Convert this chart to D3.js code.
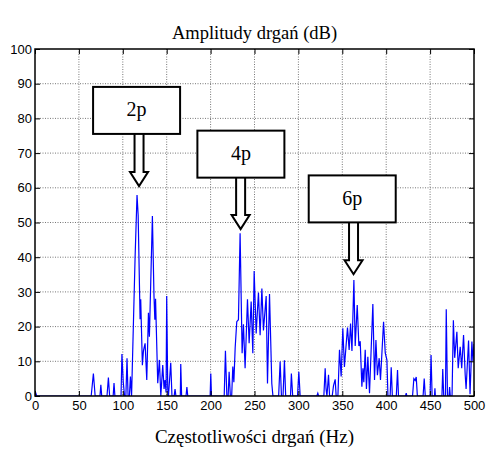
<!DOCTYPE html>
<html>
<head>
<meta charset="utf-8">
<title>Amplitudy drgań</title>
<script src="https://d3js.org/d3.v7.min.js"></script>
<style>
  body { margin: 0; background: #fff; }
</style>
</head>
<body>
<div id="chart"></div>
<script>
// spectrum: frequency (Hz) and amplitude (dB)
var freqHz = [0, 2, 64, 66.5, 68.5, 74, 75, 76, 82, 83.6, 85, 89, 90, 91, 98, 99, 100.5, 102, 103.5, 104.8, 106, 107.5, 108.7, 110,
  112, 114, 116.2, 117.5, 119.7, 120.4, 122.3, 123.5, 125.4, 127.3, 129.2, 130.3, 133.7, 135.5, 136.5, 137.3, 139.8, 141.7, 143.3,
  145.5, 147, 148.1, 149.3, 150, 151.2, 152, 154.6, 156, 158.5, 159.5, 160.5, 165.5, 166, 167, 172, 173, 174,
  199.5, 200.2, 201, 215.5, 216.9, 218.5, 220, 221.1, 222.5, 224, 225.3, 226.5, 228, 229.8, 231.7, 233.6, 235.9, 237.4, 239.3,
  242, 243.9, 246.2, 248.1, 249.6, 251.9, 254.5, 256.4, 258.4, 260.2, 263.3, 264.8, 267.1, 269.7, 271,
  277.5, 279.2, 280.7, 282.5, 284.1, 285.5, 291, 292, 293.5, 299, 300.5, 302, 321, 322.1, 323,
  329, 330.5, 331.5, 332.5, 334.3, 335.5, 338.5, 340, 341.9, 343, 345, 346.8, 348.7, 350.6, 352.4, 355.9, 357.8, 359.4, 361,
  363.2, 364.7, 367, 368.9, 370.4, 372.3, 373.5, 374.5, 376.1, 377.5, 379.1, 381, 384.8, 386.7, 388.3, 390, 392, 393.5,
  397, 398.9, 400.8, 402, 404.5, 405.7, 407, 411.5, 412.9, 414, 422, 422.8, 423.5, 430, 431.5, 433, 434.2, 435.5,
  442, 443.3, 444.5, 450, 451.1, 452.3, 455, 455.5, 456, 463.5, 464.4, 465.5, 467.5, 468.4, 469.8, 471.5, 472.2, 473,
  475, 476.5, 478, 480.5, 482, 484.3, 486, 488.1, 490, 491, 493.8, 495.5, 497.6, 498.8, 500];
var ampDb = [1.5, 0, 0, 6.5, 0, 0, 3.2, 0, 0, 5.3, 0, 0, 3.7, 0, 0, 12.1, 4, 0, 0, 10.9, 0, 0, 5.6, 0,
  20, 40, 57.9, 52, 22.1, 27.9, 8.9, 13, 15.2, 4.6, 24, 17.1, 51.9, 29, 22, 28, 3.7, 10.4, 0,
  8.9, 2, 4.6, 1, 28.8, 2, 0, 9.6, 0, 0, 2, 0, 0, 9.2, 0, 0, 2.6, 0,
  0, 6.5, 0, 0, 13, 0, 0, 7, 0, 0, 8.5, 4, 14, 21.4, 22, 46.9, 12.3, 20.7, 8,
  27.9, 15.2, 27.2, 12.3, 36, 18, 29.8, 17.5, 31, 18.9, 28.8, 3.6, 29.4, 3.6, 0,
  0, 9.9, 0, 0, 10.3, 0, 0, 6.5, 0, 0, 7, 0, 0, 0.8, 0,
  0, 8, 2, 0, 6.1, 0, 0, 3, 4.8, 0, 0, 13.3, 5.6, 19.5, 8.4, 19.7, 13.3, 20.9, 13,
  33.4, 14.4, 26.2, 14.4, 15.8, 2.7, 8, 4, 13.3, 2, 11.3, 0.8, 26.5, 4.6, 16.1, 6, 10.9, 4.6,
  21.4, 12.4, 10.4, 0, 0, 8.3, 0, 0, 7.5, 0, 0, 0.8, 0, 0, 5, 4.5, 5.5, 0,
  0, 5, 0, 0, 11.8, 0, 0, 2.2, 0, 0, 7.8, 0, 0, 25, 0, 0, 2.6, 0,
  0, 21.8, 11, 18.5, 8, 14.2, 8, 17.6, 6, 2, 16, 0.5, 15.7, 10, 15];

var xTicks = [0, 50, 100, 150, 200, 250, 300, 350, 400, 450, 500];
var yTicks = [0, 10, 20, 30, 40, 50, 60, 70, 80, 90, 100];

// annotation labels: box centre (Hz, dB), arrow x (Hz) and arrow tip (dB)
var noteLabels = ["2p", "4p", "6p"];
var noteBoxHz = [115.7, 234.5, 361.3];
var noteBoxDb = [82.3, 69.7, 56.8];
var noteArrowHz = [118.5, 234.2, 362.8];
var noteTipDb = [60.5, 48.1, 35.1];

var titleText = "Amplitudy drgań (dB)";
var xLabelText = "Częstotliwości drgań (Hz)";

var width = 486, height = 450;
var margin = { top: 49, right: 12, bottom: 54, left: 35 };
var plotW = width - margin.left - margin.right;
var plotH = height - margin.top - margin.bottom;

var svg = d3.select("#chart").append("svg")
  .attr("width", width)
  .attr("height", height)
  .style("display", "block");

svg.append("rect").attr("width", width).attr("height", height).attr("fill", "#fff");

var x = d3.scaleLinear().domain([0, 500]).range([0, plotW]);
var y = d3.scaleLinear().domain([0, 100]).range([plotH, 0]);

var g = svg.append("g").attr("transform", "translate(" + margin.left + "," + margin.top + ")");

svg.append("defs").append("clipPath").attr("id", "plotclip")
  .append("rect").attr("width", plotW).attr("height", plotH);

// dotted grid
g.append("g").selectAll("line.gx")
  .data(xTicks.slice(1, -1)).enter().append("line")
  .attr("x1", function (d) { return x(d); }).attr("x2", function (d) { return x(d); })
  .attr("y1", 0).attr("y2", plotH)
  .attr("stroke", "#777").attr("stroke-dasharray", "1,1.5");
g.append("g").selectAll("line.gy")
  .data(yTicks.slice(1, -1)).enter().append("line")
  .attr("y1", function (d) { return y(d); }).attr("y2", function (d) { return y(d); })
  .attr("x1", 0).attr("x2", plotW)
  .attr("stroke", "#777").attr("stroke-dasharray", "1,1.5");

// spectrum line
var pts = freqHz.map(function (f, i) { return [f, ampDb[i]]; });
var line = d3.line()
  .x(function (d) { return x(d[0]); })
  .y(function (d) { return y(d[1]); });
g.append("path")
  .datum(pts)
  .attr("clip-path", "url(#plotclip)")
  .attr("d", line)
  .attr("fill", "none")
  .attr("stroke", "#0000ff")
  .attr("stroke-width", 1.2);

// axes with inward ticks on all four sides
var tickFont = "'Liberation Sans', Arial, sans-serif";
var axB = g.append("g").attr("transform", "translate(0," + plotH + ")")
  .call(d3.axisBottom(x).tickValues(xTicks).tickSize(-5).tickPadding(5).tickFormat(d3.format("d")));
var axL = g.append("g")
  .call(d3.axisLeft(y).tickValues(yTicks).tickSize(-5).tickPadding(3).tickFormat(d3.format("d")));
var axT = g.append("g")
  .call(d3.axisTop(x).tickValues(xTicks).tickSize(-5).tickFormat(""));
var axR = g.append("g").attr("transform", "translate(" + plotW + ",0)")
  .call(d3.axisRight(y).tickValues(yTicks).tickSize(-5).tickFormat(""));

[axB, axL, axT, axR].forEach(function (a) {
  a.select(".domain").remove();
  a.selectAll(".tick line").attr("stroke", "#000").attr("stroke-width", 1);
  a.selectAll(".tick text").attr("fill", "#000").style("font-family", tickFont).style("font-size", "13px");
});

g.append("rect")
  .attr("width", plotW).attr("height", plotH)
  .attr("fill", "none").attr("stroke", "#000").attr("stroke-width", 1.5);

// annotation boxes with hollow arrows
var boxW = 87, boxH = 47, shaftW = 9, headW = 18, headL = 14;
noteLabels.forEach(function (lab, i) {
  var cx = x(noteBoxHz[i]), cy = y(noteBoxDb[i]);
  var ax = x(noteArrowHz[i]), tip = y(noteTipDb[i]);
  var top = cy + boxH / 2, hb = tip - headL;
  var arrow = [
    [ax - shaftW / 2, top], [ax - shaftW / 2, hb], [ax - headW / 2, hb], [ax, tip],
    [ax + headW / 2, hb], [ax + shaftW / 2, hb], [ax + shaftW / 2, top]
  ];
  g.append("path")
    .attr("d", "M" + arrow.join("L"))
    .attr("fill", "#fff").attr("stroke", "#000").attr("stroke-width", 2)
    .attr("stroke-linejoin", "miter");
  g.append("rect")
    .attr("x", cx - boxW / 2).attr("y", cy - boxH / 2)
    .attr("width", boxW).attr("height", boxH)
    .attr("fill", "#fff").attr("stroke", "#000").attr("stroke-width", 2);
  g.append("text")
    .attr("x", cx).attr("y", cy + 6)
    .attr("text-anchor", "middle")
    .style("font-family", "'Liberation Serif', 'Times New Roman', serif")
    .style("font-size", "20px")
    .text(lab);
});

// titles
svg.append("text")
  .attr("x", margin.left + plotW / 2).attr("y", 39)
  .attr("text-anchor", "middle")
  .style("font-family", "'Liberation Serif', 'Times New Roman', serif")
  .style("font-size", "18.5px")
  .text(titleText);
svg.append("text")
  .attr("x", margin.left + plotW / 2).attr("y", 443)
  .attr("text-anchor", "middle")
  .style("font-family", "'Liberation Serif', 'Times New Roman', serif")
  .style("font-size", "19px")
  .text(xLabelText);
</script>
</body>
</html>
